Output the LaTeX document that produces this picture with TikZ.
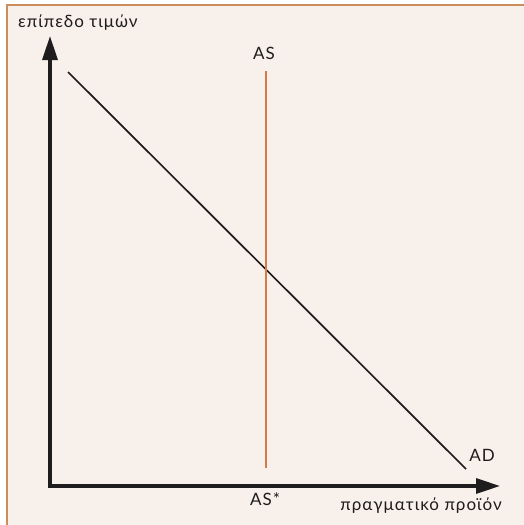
\documentclass[tikz,border=0pt]{standalone}
\usepackage{fontspec}
\setmainfont{Lato}[LetterSpace=6]
\usepackage{xcolor}
\usetikzlibrary{arrows.meta}
\definecolor{framebg}{RGB}{248,241,235}
\definecolor{frameline}{RGB}{204,140,92}
\definecolor{asline}{RGB}{214,122,72}
\definecolor{ink}{RGB}{30,28,28}

\begin{document}
\begin{tikzpicture}[x=1pt, y=-1pt, font=\fontsize{17}{20}\selectfont,
  axis/.style={line width=3.2pt, ink, {Triangle[length=24pt, width=15pt]}-{Triangle[length=24pt, width=15pt]}},
  curve/.style={line width=1.7pt, ink},
  vert/.style={line width=2.8pt, asline},
  lbl/.style={anchor=base, text=ink, inner sep=0pt}]
\useasboundingbox (0,0) rectangle (523,525);

% πλαίσιο
\draw[frameline, line width=2.2pt, fill=framebg] (7,5) rectangle (540,540);

% άξονες
\coordinate (origin) at (50,486);
\coordinate (ytip)   at (50,36);
\coordinate (xtip)   at (500,486);
\draw[axis] (ytip) |- (xtip);
\node[lbl, anchor=base west] (ylab) at (18,27) {επίπεδο τιμών};
\node[lbl, anchor=base east] (xlab) at (502,510) {πραγματικό προϊόν};

% καμπύλη AD
\coordinate (adtop) at (68,72);
\coordinate (adbot) at (466,469);
\draw[curve] (adtop) -- (adbot);
\node[lbl] (adlab) at (482,461) {AD};

% κατακόρυφη AS
\coordinate (astop) at (266,71);
\coordinate (asbot) at (266,468);
\draw[vert] (astop) -- (asbot);
\node[lbl] (aslab)  at (264,59)  {AS};
\node[lbl] (asstar) at (265,505) {AS*};
\end{tikzpicture}
\end{document}
